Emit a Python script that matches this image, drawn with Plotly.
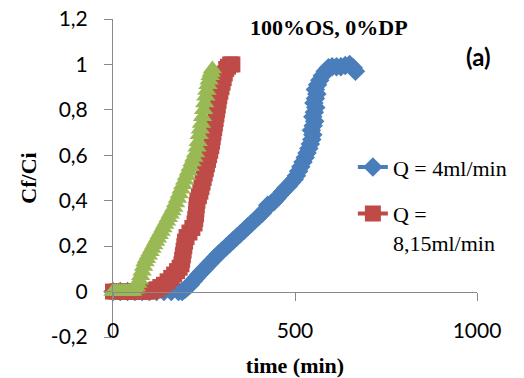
import plotly.graph_objects as go

# ---- data ----
blue_name = "Q = 4ml/min"
blue_x = [0, 20, 40, 60, 80, 100, 120, 140, 160, 180,
          190, 198, 205, 212, 220, 228, 236, 245, 254, 263, 272, 281, 290, 300, 310, 320,
          330, 340, 350, 360, 370, 380, 390, 400, 410, 418, 425, 433, 442, 450, 458, 466,
          474, 482, 490, 498, 504, 510, 516, 522, 528, 533, 538, 542, 546, 549, 545, 550,
          554, 549, 553, 557, 552, 556, 560, 556, 562, 568, 575, 583, 592, 602, 614, 626,
          638, 650, 660, 666]
blue_y = [0, 0, 0, 0, 0, 0, 0, 0, 0, 0,
          0.0, 0.01, 0.02, 0.03, 0.045, 0.06, 0.075, 0.09, 0.105, 0.12, 0.135, 0.15, 0.165,
          0.18, 0.195, 0.21, 0.225, 0.24, 0.255, 0.27, 0.285, 0.30, 0.315, 0.33, 0.345, 0.36,
          0.38, 0.385, 0.395, 0.41, 0.425, 0.44, 0.455, 0.465, 0.48, 0.495, 0.51, 0.53, 0.55,
          0.57, 0.59, 0.61, 0.63, 0.65, 0.67, 0.69, 0.71, 0.73, 0.75, 0.77, 0.79, 0.81, 0.83,
          0.85, 0.87, 0.89, 0.91, 0.93, 0.95, 0.97, 0.985, 0.99, 0.99, 0.99, 0.995, 1.0,
          0.985, 0.97]

red_name = "Q =<br>8,15ml/min"
red_x = [0, 10, 20, 30, 40, 50, 60, 70, 80, 90, 100,
         110, 120, 130, 140, 150, 160, 168, 176, 183, 188, 190, 192, 194, 196, 198, 202,
         210, 218, 224, 226, 228, 229, 230, 232, 236, 240, 243, 246, 249, 252, 255, 258,
         261, 264, 267, 270, 272, 274, 276, 278, 280, 282, 284, 286, 288, 290, 292, 295,
         298, 301, 304, 307, 311, 316, 322, 328]
red_y = [0, 0, 0, 0, 0, 0, 0, 0, 0, 0, 0,
         0.005, 0.01, 0.02, 0.03, 0.045, 0.06, 0.075, 0.09, 0.105, 0.12, 0.14, 0.16, 0.18,
         0.20, 0.22, 0.24, 0.26, 0.28, 0.30, 0.32, 0.34, 0.36, 0.38, 0.40, 0.42, 0.44, 0.46,
         0.48, 0.50, 0.52, 0.54, 0.56, 0.58, 0.60, 0.62, 0.64, 0.66, 0.68, 0.70, 0.72, 0.74,
         0.76, 0.78, 0.80, 0.82, 0.84, 0.86, 0.88, 0.90, 0.92, 0.94, 0.96, 0.98, 0.99, 1.0,
         1.0]

green_x = [0, 6, 12, 18, 24, 30, 36, 42, 48, 54,
           60, 64, 68, 72, 76, 80, 84, 88, 92, 97, 102, 107, 112, 117, 122, 127, 132, 137,
           142, 147, 152, 157, 162, 167, 172, 177, 182, 187, 192, 197, 202, 207, 212, 217,
           222, 227, 231, 234, 237, 240, 243, 246, 249, 252, 255, 258, 261, 264, 267, 270,
           273]
green_y = [0, 0, 0, 0, 0, 0, 0, 0, 0, 0,
           0.01, 0.02, 0.035, 0.05, 0.07, 0.09, 0.11, 0.13, 0.145, 0.16, 0.175, 0.19, 0.205,
           0.22, 0.235, 0.25, 0.265, 0.28, 0.295, 0.31, 0.325, 0.34, 0.355, 0.37, 0.39, 0.41,
           0.43, 0.45, 0.47, 0.49, 0.51, 0.53, 0.55, 0.57, 0.59, 0.61, 0.635, 0.66, 0.69,
           0.715, 0.74, 0.77, 0.80, 0.83, 0.86, 0.885, 0.91, 0.93, 0.95, 0.965, 0.98]

y_tickvals = [-0.2, 0, 0.2, 0.4, 0.6, 0.8, 1.0, 1.2]
y_ticktext = ["-0,2", "0", "0,2", "0,4", "0,6", "0,8", "1", "1,2"]
x_tickvals = [0, 500, 1000]
x_ticktext = ["0", "500", "1000"]

title_text = "100%OS, 0%DP"
panel_label = "(a)"
x_title = "time (min)"
y_title = "Cf/Ci"

BLUE = "#4A7EBB"
RED = "#BE4B48"
GREEN = "#98B954"
AXIS = "#898989"

fig = go.Figure()
fig.add_trace(go.Scatter(x=blue_x, y=blue_y, name=blue_name, mode="lines+markers",
                         line=dict(color=BLUE, width=4),
                         marker=dict(symbol="diamond", size=15, color=BLUE),
                         cliponaxis=False, legendgroup="a"))
fig.add_trace(go.Scatter(x=red_x, y=red_y, name=red_name, mode="lines+markers",
                         line=dict(color=RED, width=4),
                         marker=dict(symbol="square", size=16, color=RED),
                         cliponaxis=False, legendgroup="b"))
fig.add_trace(go.Scatter(x=green_x, y=green_y, name="", mode="lines+markers",
                         line=dict(color=GREEN, width=4),
                         marker=dict(symbol="triangle-up", size=17, color=GREEN),
                         cliponaxis=False, showlegend=False, legendgroup="c"))

fig.update_layout(
    width=524, height=378,
    margin=dict(l=113, r=45, t=19, b=41),
    paper_bgcolor="white", plot_bgcolor="white",
    showlegend=True,
    legend=dict(x=0.659, y=0.60, xanchor="left", yanchor="top",
                font=dict(family="Liberation Serif", size=22, color="black"),
                tracegroupgap=15, valign="top", bgcolor="rgba(0,0,0,0)"),
    xaxis=dict(range=[0, 1000], anchor="free", position=0.2 / 1.4,
               showline=True, linecolor=AXIS, linewidth=1,
               ticks="outside", ticklen=8, tickcolor=AXIS,
               tickvals=x_tickvals, ticktext=x_ticktext,
               ticklabelstandoff=12, automargin=False, ticklabeloverflow="allow",
               tickfont=dict(family="Lato", size=21, color="black"),
               showgrid=False, zeroline=False,
               title=dict(text="<b>" + x_title + "</b>", standoff=17,
                          font=dict(family="Liberation Serif", size=22, color="black"))),
    yaxis=dict(range=[-0.2, 1.2], showline=True, linecolor=AXIS, linewidth=1,
               ticks="outside", ticklen=8, tickcolor=AXIS,
               tickvals=y_tickvals, ticktext=y_ticktext,
               ticklabelstandoff=12, automargin=False, ticklabeloverflow="allow",
               tickfont=dict(family="Lato", size=21, color="black"),
               showgrid=False, zeroline=False,
               title=dict(text="<b>" + y_title + "</b>", standoff=8,
                          font=dict(family="Liberation Serif", size=22, color="black"))),
    annotations=[
        dict(text="<b>" + title_text + "</b>", xref="paper", yref="paper",
             x=(330 - 113) / 366, y=(337 - 27) / 318, showarrow=False,
             xanchor="center", yanchor="middle",
             font=dict(family="Liberation Serif", size=22, color="black")),
        dict(text="<b>" + panel_label + "</b>", xref="paper", yref="paper",
             x=(481 - 113) / 366, y=(337 - 57) / 318, showarrow=False,
             xanchor="center", yanchor="middle",
             font=dict(family="Lato", size=24, color="black")),
    ],
)

fig.write_html("out.html", config={"displayModeBar": False},
               post_script="document.body.style.margin='0';document.body.style.overflow='hidden';")
